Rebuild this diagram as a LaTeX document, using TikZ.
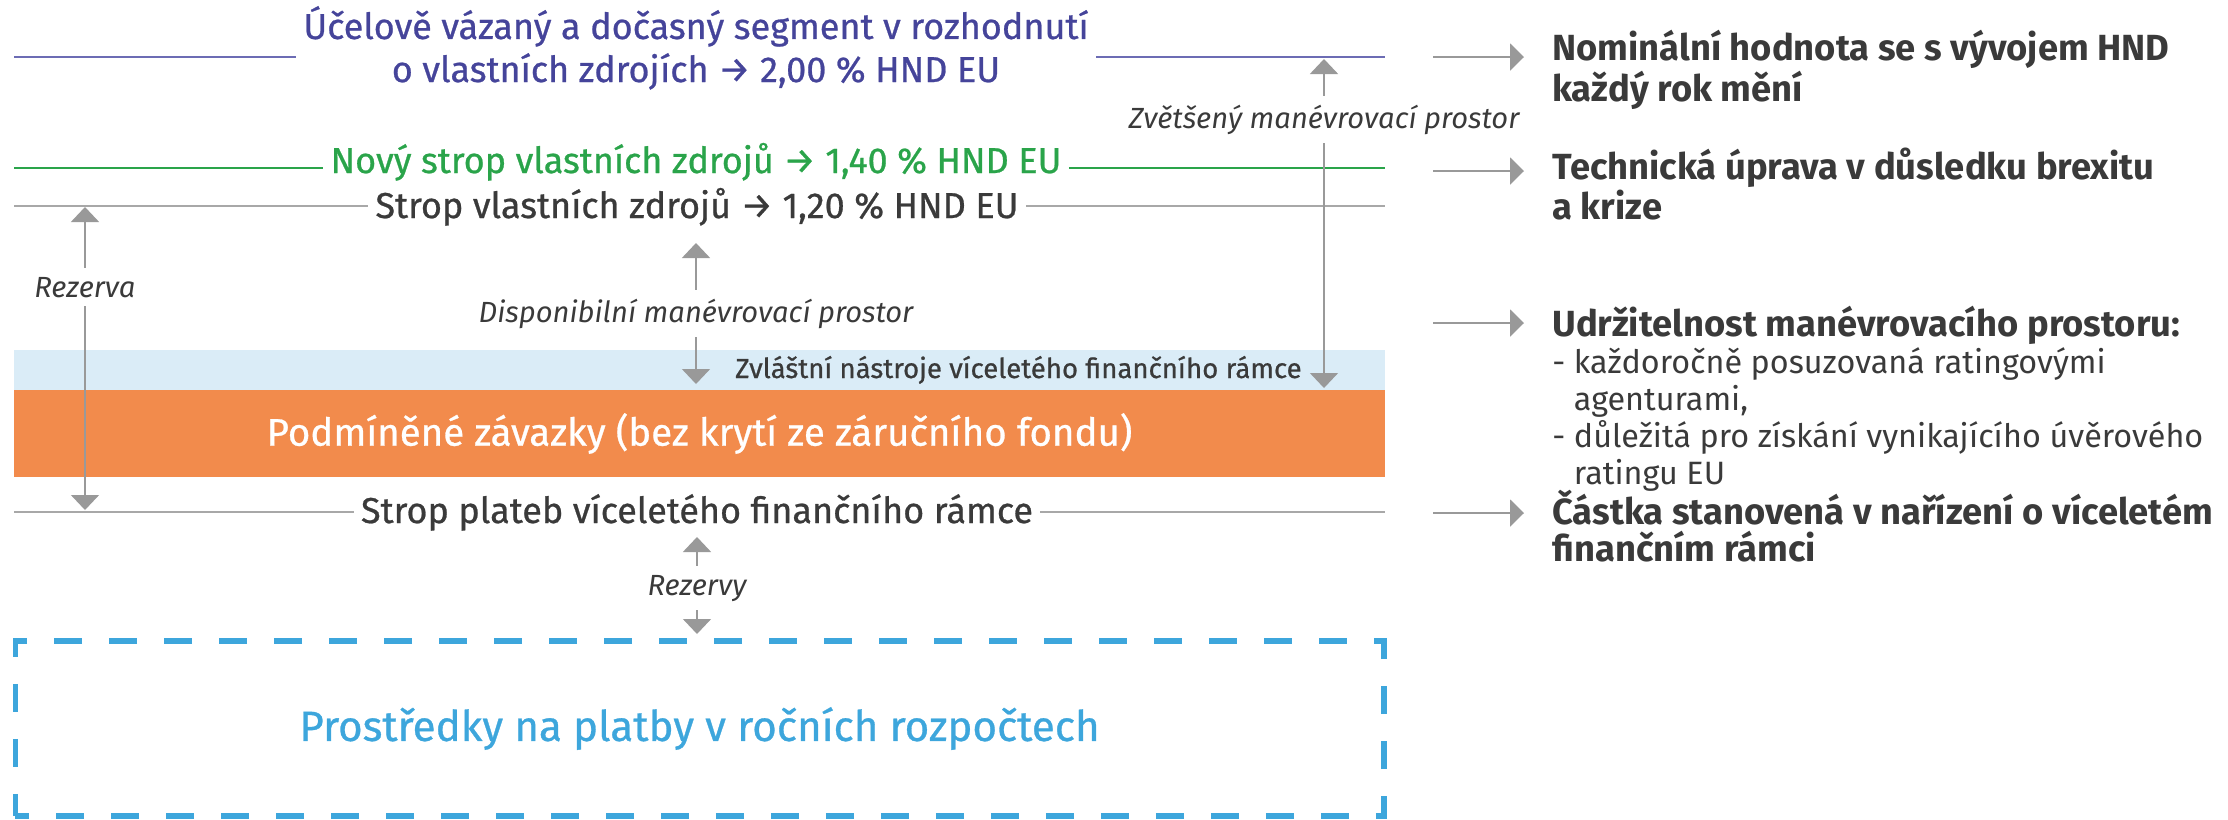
\documentclass[tikz,border=0pt]{standalone}
\usepackage{fontspec}
\setmainfont{Fira Sans}
\newfontfamily\ecmedium[FakeBold=0.7]{Fira Sans}
\usetikzlibrary{arrows.meta}

\definecolor{ecpurple}{HTML}{45449A}
\definecolor{ecpurpleline}{HTML}{6C6CB4}
\definecolor{ecgreen}{HTML}{2AA44A}
\definecolor{ectext}{HTML}{3A3A3A}
\definecolor{ecline}{HTML}{A8A8A8}
\definecolor{ecarrow}{HTML}{999999}
\definecolor{ecband}{HTML}{DAECF7}
\definecolor{ecorange}{HTML}{F28B4C}
\definecolor{ecblue}{HTML}{3DA6DC}

\begin{document}
\begin{tikzpicture}[x=0.02cm, y=-0.02cm,
    level/.style={line width=1.1pt, ecline},
    ceiling/.style={font=\ecmedium\fontsize{20.5}{24.5}\selectfont, text=ectext, anchor=base, inner sep=4pt},
    margin/.style={font=\itshape\fontsize{16.6}{19}\selectfont, text=ectext, anchor=base, inner sep=5pt},
    varrow/.style={-{Triangle[width=0.56cm, length=0.3cm]}, line width=0.9pt, ecarrow},
    harrow/.style={-{Triangle[width=0.54cm, length=0.28cm]}, line width=1.2pt, ecarrow},
    note/.style={font=\bfseries\fontsize{20.7}{21}\selectfont, text=ectext, anchor=base west, align=left, inner sep=0pt},
    item/.style={font=\mdseries\fontsize{18.4}{21}\selectfont}
]
\useasboundingbox (0,0) rectangle (2228,819);

% bands
\fill[ecband] (14,350) rectangle (1385,390);
\node[fill=ecorange, minimum width=27.42cm, minimum height=1.74cm, inner sep=0pt, text=white, font=\ecmedium\fontsize{21.9}{25}\selectfont] (contingent) at (699.5,433.5) {Podmíněné závazky (bez krytí ze záručního fondu)};
\node[draw=ecblue, line width=3pt, dash pattern=on 0.56cm off 0.54cm, dash phase=0.28cm, minimum width=27.38cm, minimum height=3.5cm, text=ecblue, font=\ecmedium\fontsize{24}{28}\selectfont] (annual) at (699.5,728.5) {Prostředky na platby v ročních rozpočtech};
\node[font=\ecmedium\fontsize{15.7}{18}\selectfont, text=ectext, anchor=base east, inner sep=0pt] (special) at (1302,378) {Zvláštní nástroje víceletého finančního rámce};

% ceilings
\node[ceiling, text=ecpurple, align=center] (purpose) at (696,82) {Účelově vázaný a dočasný segment v rozhodnutí\\o vlastních zdrojích → 2,00 \% HND EU};
\node[ceiling, text=ecgreen] (newceil) at (696,173) {Nový strop vlastních zdrojů → 1,40 \% HND EU};
\node[ceiling] (ownceil) at (697,218) {Strop vlastních zdrojů → 1,20 \% HND EU};
\node[ceiling] (mffceil) at (697,523) {Strop plateb víceletého finančního rámce};

\coordinate (purposeL) at (14,57);  \coordinate (purposeR) at (1385,57);
\coordinate (newceilL) at (14,168); \coordinate (newceilR) at (1385,168);
\coordinate (ownceilL) at (14,206); \coordinate (ownceilR) at (1385,206);
\coordinate (mffceilL) at (14,512); \coordinate (mffceilR) at (1385,512);

\draw[level, ecpurpleline, line width=1.3pt] (purposeL) -- (purposeL -| purpose.west) (purposeR -| purpose.east) -- (purposeR);
\draw[level, ecgreen, line width=1.3pt] (newceilL) -- (newceil.west |- newceilL) (newceil.east |- newceilR) -- (newceilR);
\draw[level] (ownceilL) -- (ownceil.west |- ownceilL) (ownceil.east |- ownceilR) -- (ownceilR);
\draw[level] (mffceilL) -- (mffceil.west |- mffceilL) (mffceil.east |- mffceilR) -- (mffceilR);

% margins
\node[margin] (reserve) at (85,297) {Rezerva};
\node[margin] (freemargin) at (696,322) {Disponibilní manévrovací prostor};
\node[margin] (widemargin) at (1324,128) {Zvětšený manévrovací prostor};
\node[margin] (reserves) at (697,595) {Rezervy};

\coordinate (reserveTop) at (85,207);   \coordinate (reserveBot) at (85,510);
\coordinate (freeTop) at (696,243);     \coordinate (freeBot) at (696,384);
\coordinate (wideTop) at (1324,59);     \coordinate (wideBot) at (1324,388);
\coordinate (reservesTop) at (697,537); \coordinate (reservesBot) at (697,634);

\draw[varrow] (reserve) -- (reserveTop);
\draw[varrow] (reserve) -- (reserveBot);
\draw[varrow] (freemargin) -- (freeTop);
\draw[varrow] (freemargin) -- (freeBot);
\draw[varrow] (widemargin) -- (wideTop);
\draw[varrow] (widemargin) -- (wideBot);
\draw[varrow] (reserves) -- (reservesTop);
\draw[varrow] (reserves) -- (reservesBot);

% notes on the right
\coordinate (gniS) at (1433,57);      \coordinate (gniE) at (1524,57);
\coordinate (brexitS) at (1433,171);  \coordinate (brexitE) at (1524,171);
\coordinate (sustainS) at (1433,323); \coordinate (sustainE) at (1524,323);
\coordinate (amountS) at (1433,513);  \coordinate (amountE) at (1524,513);

\draw[harrow] (gniS) -- (gniE);
\draw[harrow] (brexitS) -- (brexitE);
\draw[harrow] (sustainS) -- (sustainE);
\draw[harrow] (amountS) -- (amountE);

\node[note] (gni) at (1552,101) {Nominální hodnota se s vývojem HND\\každý rok mění};
\node[note] (brexit) at (1552,219) {Technická úprava v důsledku brexitu\\a krize};
\node[note] (sustain) at (1552,484) {Udržitelnost manévrovacího prostoru:\\
  {\mdseries\fontsize{18.4}{21}\selectfont - každoročně posuzovaná ratingovými}\\
  {\mdseries\fontsize{18.4}{21}\selectfont\phantom{- }agenturami,}\\
  {\mdseries\fontsize{18.4}{21}\selectfont - důležitá pro získání vynikajícího úvěrového}\\
  {\mdseries\fontsize{18.4}{21}\selectfont\phantom{- }ratingu EU}};
\node[note] (amount) at (1552,561) {Částka stanovená v nařízení o víceletém\\finančním rámci};
\end{tikzpicture}
\end{document}
